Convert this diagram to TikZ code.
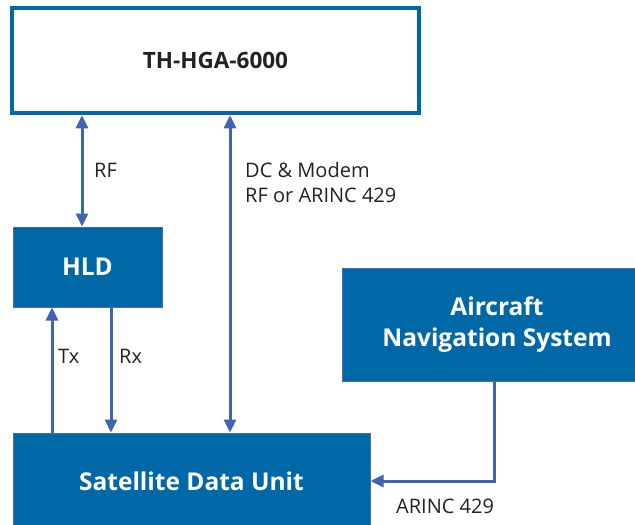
\documentclass[tikz,border=0pt]{standalone}
\usepackage{fontspec}
\setmainfont{Open Sans}
\usepackage{xcolor}
\usetikzlibrary{arrows.meta,positioning,calc}
\definecolor{boxblue}{RGB}{0,104,166}
\definecolor{edgeblue}{RGB}{72,104,184}
\definecolor{arrblue}{RGB}{66,98,178}
\definecolor{txtgray}{RGB}{34,34,34}
\tikzset{
  unit/.style={draw=edgeblue, line width=1pt, fill=boxblue, text=white, align=center, font=\bfseries\fontsize{24.5}{31}\selectfont, inner sep=0pt},
  arr/.style={-{Triangle[length=13pt,width=12pt]}, line width=3pt, draw=arrblue},
  biarr/.style={{Triangle[length=13pt,width=12pt]}-{Triangle[length=13pt,width=12pt]}, line width=3pt, draw=arrblue},
  lbl/.style={anchor=west, align=left, text=txtgray, font=\fontsize{20}{25}\selectfont, inner sep=0pt},
}

\begin{document}
\begin{tikzpicture}[x=1pt,y=-1pt]
  \clip (0,0) rectangle (635,525);
  \fill[white] (0,0) rectangle (635,525);
  % units
  \node[draw=boxblue, line width=4.5pt, fill=white, minimum width=407pt, minimum height=105pt,
        font=\bfseries\fontsize{22.5}{30}\selectfont, text=txtgray] (hga) at (215.5,60.5) {TH-HGA-6000};
  \node[unit, minimum width=149pt, minimum height=80pt] (hld) at (87.5,267) {HLD};
  \node[unit, minimum width=357pt, minimum height=96pt] (sdu) at (191.5,481) {Satellite Data Unit};
  \node[unit, minimum width=310pt, minimum height=113pt] (nav) at (497,325) {Aircraft\\Navigation System};
  % links
  \draw[biarr] ([xshift=-5.5pt]hld.north) -- ([xshift=-5.5pt]hld.north |- hga.south);
  \draw[biarr] ([xshift=38.5pt]sdu.north) -- ([xshift=38.5pt]sdu.north |- hga.south);
  \draw[arr] ([xshift=-35.5pt]hld.south |- sdu.north) -- ([xshift=-35.5pt]hld.south);
  \draw[arr] ([xshift=23.5pt]hld.south) -- ([xshift=23.5pt]hld.south |- sdu.north);
  \draw[arr] ([xshift=-3pt]nav.south) |- (sdu.east);
  % labels
  \node[lbl] (rf) at (94,170) {RF};
  \node[lbl] (dc) at (245,182) {DC \& Modem\\RF or ARINC 429};
  \node[lbl] (tx) at (58,356) {Tx};
  \node[lbl] (rx) at (119,356) {Rx};
  \node[lbl] (a429) at (396,506) {ARINC 429};
\end{tikzpicture}
\end{document}
